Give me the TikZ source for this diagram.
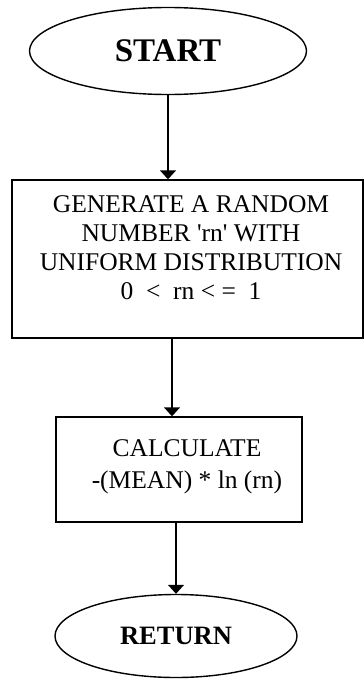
\documentclass[tikz,border=0pt]{standalone}
\usepackage{fontspec}
\setmainfont{Liberation Serif}
\usetikzlibrary{shapes.geometric,arrows.meta}
\begin{document}
\begin{tikzpicture}[x=1pt,y=1pt,
  line width=1.4pt,
  term/.style={ellipse,draw,inner sep=0pt},
  procbox/.style={rectangle,draw,inner sep=0pt},
  boxtext/.style={align=center,inner sep=0pt},
  flow/.style={-{Triangle[width=16pt,length=9pt]}}]
\useasboundingbox (0,0) rectangle (364,-680);
\node[term,minimum width=277,minimum height=87,
      font=\fontsize{33}{36}\selectfont\bfseries] (start) at (168,-51) {START};
\node[procbox,minimum width=351,minimum height=158] (gen) at (187.5,-259) {};
\node[boxtext,font=\fontsize{25.5}{29}\selectfont] (genT) at (191,-248)
  {GENERATE A RANDOM\\NUMBER \textquotesingle rn\textquotesingle\ WITH\\UNIFORM DISTRIBUTION\\0 ~<~ rn <\ = ~1};
\node[procbox,minimum width=246,minimum height=105] (calc) at (179,-469.5) {};
\node[boxtext,font=\fontsize{25.5}{32}\selectfont] (calcT) at (187,-467)
  {CALCULATE\\-(MEAN) * ln (rn)};
\node[term,minimum width=242,minimum height=83,
      font=\fontsize{26.5}{30}\selectfont\bfseries] (ret) at (176,-636) {RETURN};
\draw[flow] (start.south) -- (start.south |- gen.north);
\draw[flow] ([xshift=-7pt]calc.north |- gen.south) -- ([xshift=-7pt]calc.north);
\draw[flow] (ret.north |- calc.south) -- (ret.north);
\end{tikzpicture}
\end{document}
